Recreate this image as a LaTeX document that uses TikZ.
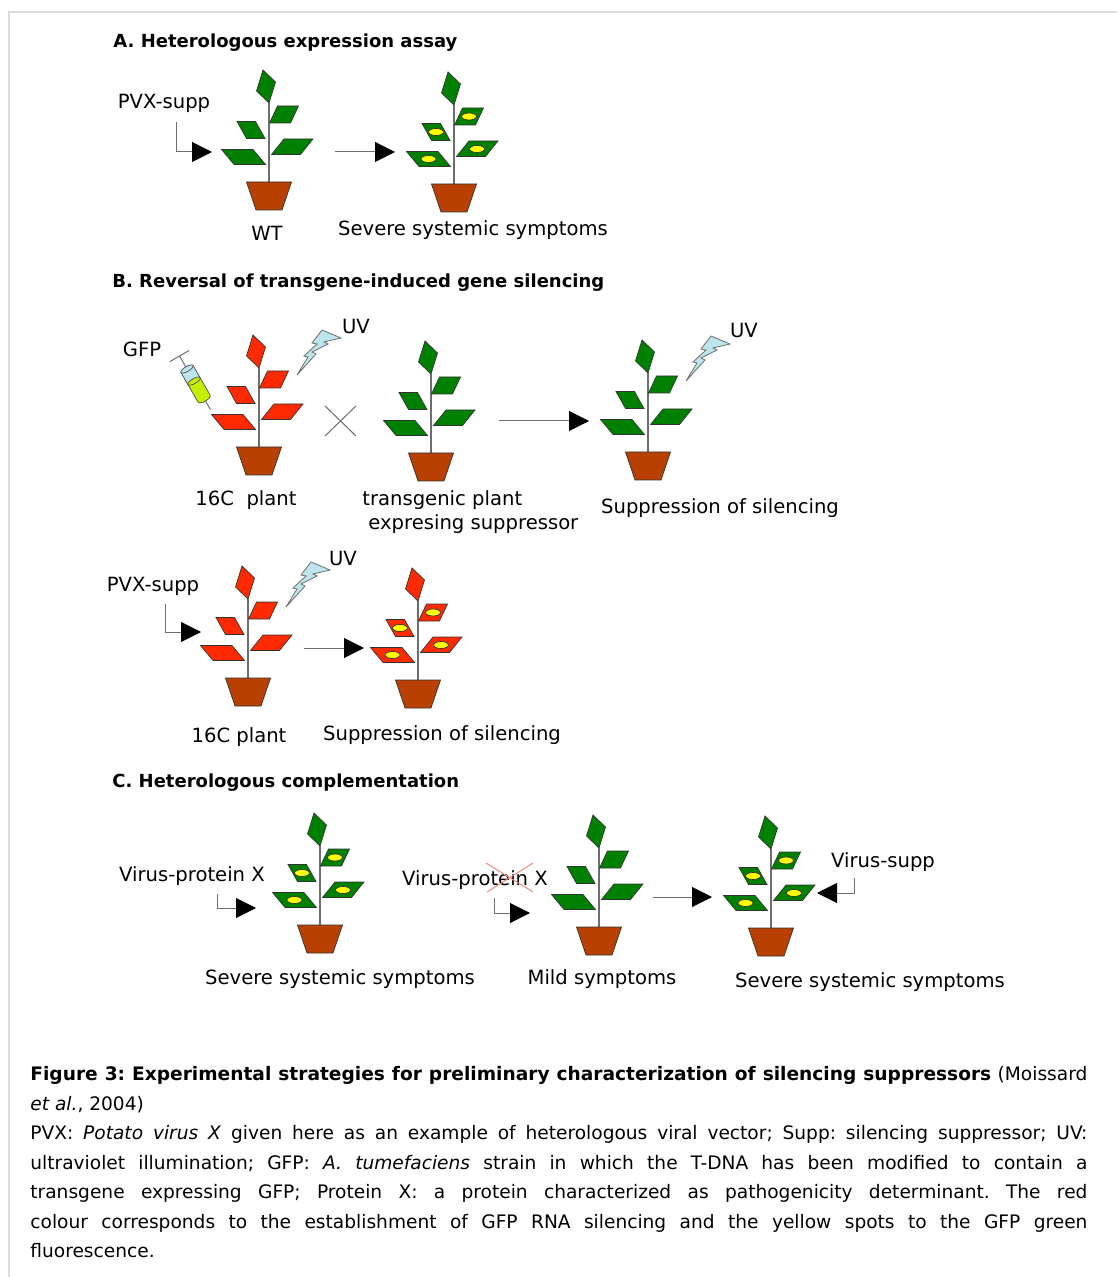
\documentclass[tikz,border=0pt]{standalone}
\usepackage{fontspec}
\setmainfont{DejaVu Sans}
\usetikzlibrary{arrows.meta}

\definecolor{leafgreen}{HTML}{008000}
\definecolor{leafred}{HTML}{FF2A00}
\definecolor{potbrown}{HTML}{B84000}
\definecolor{spotyellow}{HTML}{FFFF00}
\definecolor{boltblue}{HTML}{BDE6EC}
\definecolor{liquidlime}{HTML}{C4F000}
\definecolor{linegray}{HTML}{6E6E6E}
\definecolor{framegray}{HTML}{DCDCDC}
\definecolor{crossred}{HTML}{F08A7A}

\begin{document}
\begin{tikzpicture}[
  x=0.5pt, y=-0.5pt,
  lbl/.style={font=\fontsize{9.8}{12}\selectfont, inner sep=0pt, anchor=base},
  heading/.style={font=\fontsize{9}{11}\selectfont\bfseries, inner sep=0pt, anchor=base west},
  captiontext/.style={font=\fontsize{9.3}{14.75}\selectfont, anchor=north west, inner sep=0pt, text width=528.5pt, align=justify},
  leaf/.style={draw=black!80, line width=0.35pt, fill=#1},
  stem/.style={draw=linegray, line width=0.6pt},
  pot/.style={draw=black!80, line width=0.35pt, fill=potbrown},
  spot/.style={draw=black!80, line width=0.35pt, fill=spotyellow},
  syr/.style={draw=black!70, line width=0.35pt},
  thin line/.style={draw=linegray, line width=0.5pt},
  arr/.style={draw=linegray, line width=0.5pt, -{Triangle[length=10pt, width=10pt, color=black]}},
  pics/plant/.style={code={
    \draw[stem] (0,0) -- (0,-79);
    \draw[leaf=#1] (0,-79) -- (6.5,-100) -- (-6,-112) -- (-12.5,-91) -- cycle;
    \draw[leaf=#1] (0.5,-59) -- (21.5,-59) -- (29.5,-76) -- (8.5,-76) -- cycle;
    \draw[leaf=#1] (-32,-60.5) -- (-13.5,-60.5) -- (-4,-43.5) -- (-22.5,-43.5) -- cycle;
    \draw[leaf=#1] (2.5,-27.5) -- (31.5,-27.5) -- (44,-43) -- (15,-43) -- cycle;
    \draw[leaf=#1] (-47.5,-32.5) -- (-16,-32.5) -- (-3.5,-17.5) -- (-35,-17.5) -- cycle;
    \draw[pot] (-22.5,0) -- (22.5,0) -- (13,28) -- (-13,28) -- cycle;
  }},
  pics/spots/.style={code={
    \foreach \p in {(15,-67.5),(-18,-52),(23,-35),(-25.5,-25)}
      \draw[spot] \p ellipse [x radius=3.75pt, y radius=1.75pt];
  }},
  pics/bolt/.style={code={
    \draw[draw=linegray, line width=0.4pt, fill=boltblue, line join=miter]
      (0,0) -- (19,-21) -- (15,-23) -- (31,-31) -- (27,-33) -- (44,-37)
      -- (25,-45) -- (15,-32) -- (20,-31) -- (7,-19) -- (11,-18) -- cycle;
  }}
]
  \useasboundingbox (0,0) rectangle (1117,1277);
  \draw[framegray, line width=1pt] (1117,12) -- (9,12) -- (9,1277);

  % A. heterologous expression
  \node[heading] (headA) at (113,48) {A.~Heterologous expression assay};
  \pic at (269,182) {plant=leafgreen};
  \pic at (454,184) {plant=leafgreen};
  \pic at (454,184) {spots};
  \node[lbl] (pvxA) at (164,109) {PVX-supp};
  \node[lbl] (wtA) at (267,241) {WT};
  \node[lbl] (severeA) at (473,236) {Severe systemic symptoms};
  \coordinate (pvxA-in) at (176,122);
  \coordinate (plantA-in) at (212,152);
  \coordinate (stepA-from) at (335,152);
  \coordinate (stepA-to) at (395,152);
  \draw[arr] (pvxA-in) |- (plantA-in);
  \draw[arr] (stepA-from) -- (stepA-to);

  % B. reversal of silencing, crossing
  \node[heading] (headB) at (112,288) {B.~Reversal of transgene-induced gene silencing};
  \pic at (259,447) {plant=leafred};
  \pic at (431,453) {plant=leafgreen};
  \pic at (648,452) {plant=leafgreen};
  \pic at (297,375) {bolt};
  \pic at (686,381) {bolt};
  \node[lbl] (gfpB) at (142,357) {GFP};
  \node[lbl] (uvB1) at (356,334) {UV};
  \node[lbl] (uvB3) at (744,338) {UV};
  \node[lbl] (plantB1) at (246,505) {16C~ plant};
  \node[lbl, anchor=base west] (tgB1) at (362,505) {transgenic plant};
  \node[lbl, anchor=base west] (tgB2) at (368,530) {expresing suppressor};
  \node[lbl] (suppB3) at (720,513) {Suppression of silencing};
  % syringe
  \begin{scope}[shift={(187,369)}, rotate=30]
    \draw[thin line] (-11,-15) -- (11,-15);
    \draw[thin line] (0,-15) -- (0,0);
    \draw[thin line] (0,36) -- (0,47);
    \draw[syr, fill=boltblue] (-7,0) -- (-7,14) -- (7,14) -- (7,0) -- cycle;
    \draw[syr, fill=liquidlime] (-7,14) -- (-7,34) .. controls (-7,38) and (7,38) .. (7,34) -- (7,14);
    \draw[syr, fill=liquidlime] (0,14) ellipse [x radius=3.5pt, y radius=1.25pt];
    \draw[syr, fill=boltblue] (0,0) ellipse [x radius=3.5pt, y radius=1.25pt];
  \end{scope}
  \draw[thin line] (325,406) -- (356,436) (325,436) -- (356,406);
  \coordinate (stepB-from) at (499,421);
  \coordinate (stepB-to) at (589,421);
  \draw[arr] (stepB-from) -- (stepB-to);

  % B. reversal of silencing, PVX
  \pic at (248,678) {plant=leafred};
  \pic at (418,680) {plant=leafred};
  \pic at (418,680) {spots};
  \pic at (286,607) {bolt};
  \node[lbl] (uvB4) at (343,565) {UV};
  \node[lbl] (pvxB) at (153,591) {PVX-supp};
  \node[lbl] (plantB4) at (239,742) {16C plant};
  \node[lbl] (suppB5) at (442,740) {Suppression of silencing};
  \coordinate (pvxB-in) at (165,604);
  \coordinate (plantB-in) at (201,632);
  \coordinate (stepB2-from) at (304,648);
  \coordinate (stepB2-to) at (364,648);
  \draw[arr] (pvxB-in) |- (plantB-in);
  \draw[arr] (stepB2-from) -- (stepB2-to);

  % C. complementation
  \node[heading] (headC) at (112,787) {C.~Heterologous complementation};
  \pic at (320,925) {plant=leafgreen};
  \pic at (320,925) {spots};
  \pic at (599,927) {plant=leafgreen};
  \pic at (771,928) {plant=leafgreen};
  \pic at (771,928) {spots};
  \node[lbl] (vpxC1) at (192,881) {Virus-protein X};
  \node[lbl] (vpxC2) at (475,885) {Virus-protein X};
  \draw[crossred, line width=0.5pt] (486,863) -- (533,892) (487,892) -- (533,863);
  \node[lbl] (vsuppC) at (883,867) {Virus-supp};
  \node[lbl] (severeC1) at (340,984) {Severe systemic symptoms};
  \node[lbl] (mildC) at (602,984) {Mild symptoms};
  \node[lbl] (severeC3) at (870,987) {Severe systemic symptoms};
  \coordinate (vpxC1-in) at (217,894);
  \coordinate (plantC1-in) at (256,908);
  \coordinate (vpxC2-in) at (494,898);
  \coordinate (plantC2-in) at (530,913);
  \coordinate (stepC-from) at (653,897);
  \coordinate (stepC-to) at (712,897);
  \coordinate (vsuppC-in) at (854,878);
  \coordinate (plantC3-in) at (817,893);
  \draw[arr] (vpxC1-in) |- (plantC1-in);
  \draw[arr] (vpxC2-in) |- (plantC2-in);
  \draw[arr] (stepC-from) -- (stepC-to);
  \draw[arr] (vsuppC-in) |- (plantC3-in);

  % legend
  \node[captiontext] (legend) at (30,1066) {\hyphenpenalty=10000 \frenchspacing
    {\bfseries Figure 3: Experimental strategies for preliminary characterization of silencing suppressors} (Moissard\linebreak
    \textit{et al.}, 2004)\newline
    PVX: \textit{Potato virus X} given here as an example of heterologous viral vector; Supp: silencing suppressor; UV:\linebreak
    ultraviolet illumination; GFP: \textit{A. tumefaciens} strain in which the T-DNA has been modified to contain a\linebreak
    transgene expressing GFP; Protein X: a protein characterized as pathogenicity determinant. The red\linebreak
    colour corresponds to the establishment of GFP RNA silencing and the yellow spots to the GFP green\linebreak
    fluorescence.};
\end{tikzpicture}
\end{document}
